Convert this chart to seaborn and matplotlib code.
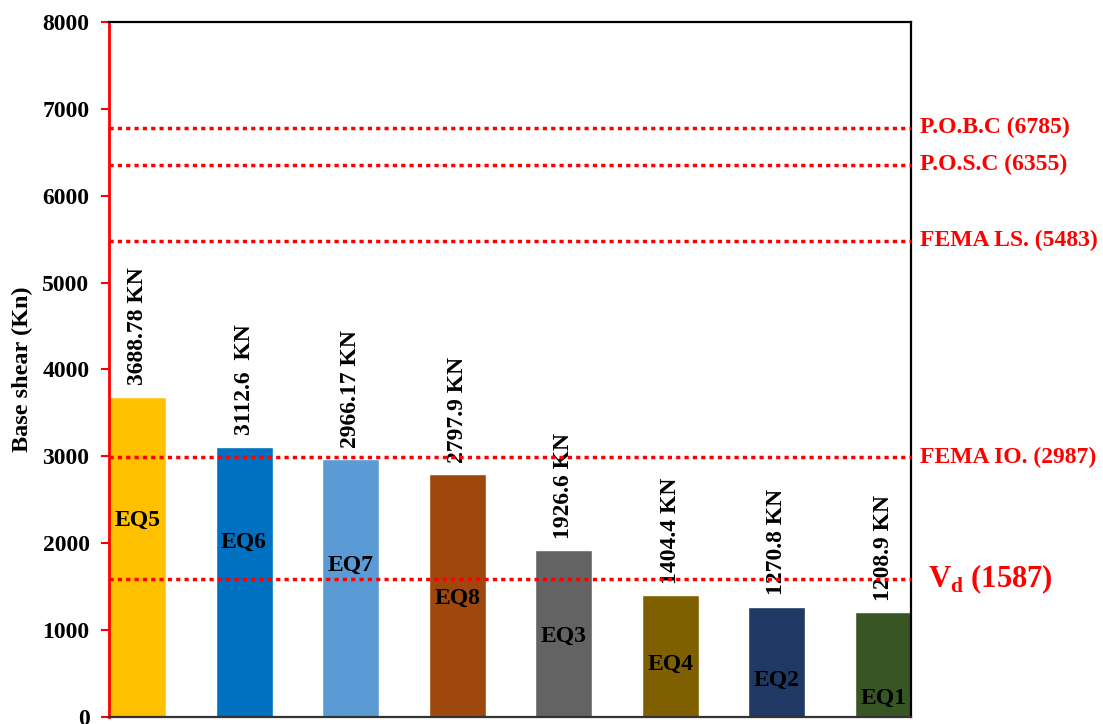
import matplotlib
matplotlib.use("Agg")
import matplotlib.pyplot as plt
import seaborn as sns
import pandas as pd

# Earthquake records and base shear (kN)
records = ["EQ5", "EQ6", "EQ7", "EQ8", "EQ3", "EQ4", "EQ2", "EQ1"]
base_shear = [3688.78, 3112.6, 2966.17, 2797.9, 1926.6, 1404.4, 1270.8, 1208.9]
value_labels = ["3688.78 KN", "3112.6  KN", "2966.17 KN", "2797.9 KN",
                "1926.6 KN", "1404.4 KN", "1270.8 KN", "1208.9 KN"]
bar_colors = ["#FFC000", "#0070C0", "#5B9BD5", "#9E480E",
              "#636363", "#7F6000", "#203864", "#375623"]
# Height at which each record name is written inside its bar
name_label_y = [2268, 2014, 1750, 1370, 932, 610, 426, 219]

# Capacity / code limits
limit_names = ["P.O.B.C (6785)", "P.O.S.C (6355)", "FEMA LS. (5483)", "FEMA IO. (2987)"]
limit_values = [6785, 6355, 5483, 2987]
design_shear = 1587

sns.set_theme(style="white")
plt.rcParams["font.family"] = ["Liberation Serif", "DejaVu Serif"]
plt.rcParams["font.weight"] = "bold"
plt.rcParams["text.color"] = "black"
plt.rcParams["axes.labelcolor"] = "black"
plt.rcParams["ytick.labelcolor"] = "black"
plt.rcParams["mathtext.fontset"] = "custom"
plt.rcParams["mathtext.rm"] = "Liberation Serif:bold"
plt.rcParams["mathtext.bf"] = "Liberation Serif:bold"

df = pd.DataFrame({"record": records, "shear": base_shear})

fig = plt.figure(figsize=(11.03, 7.24), dpi=100)
ax = fig.add_axes([0.0988, 0.0097, 0.7271, 0.9599])

sns.barplot(data=df, x="record", y="shear", hue="record", order=records,
            palette=dict(zip(records, bar_colors)), width=0.535,
            saturation=1, legend=False, ax=ax)

ax.set_xlim(-0.2675, 7.26)
ax.set_ylim(0, 8000)
ax.set_yticks(range(0, 8001, 1000))
ax.set_xticks([])
ax.set_xlabel("")
ax.set_ylabel("Base shear (Kn)", fontsize=17.5, fontweight="bold",
              color="black", labelpad=7)
ax.tick_params(axis="y", which="major", direction="out", length=6, width=1.5,
               color="red", labelcolor="black", labelsize=17, pad=8, left=True)
for lab in ax.get_yticklabels():
    lab.set_fontweight("bold")

for side in ["top", "right"]:
    ax.spines[side].set_color("black")
    ax.spines[side].set_linewidth(1.6)
ax.spines["bottom"].set_color("#333333")
ax.spines["bottom"].set_linewidth(1.6)
ax.spines["left"].set_color("red")
ax.spines["left"].set_linewidth(2.0)

# Value labels above bars and record names inside bars
for i, (v, txt, ny, name) in enumerate(zip(base_shear, value_labels, name_label_y, records)):
    ax.annotate(txt, xy=(i, v), xytext=(0, 8), textcoords="offset points",
                rotation=90, ha="center", va="bottom", fontsize=17,
                fontweight="bold", color="black")
    ax.text(i, ny, name, ha="center", va="center", fontsize=17,
            fontweight="bold", color="black")

# Dotted limit lines with labels on the right
dot_style = dict(color="red", linewidth=2.5, linestyle=(0, (1.2, 1.2)),
                 dash_capstyle="butt", zorder=3)
for name, val in zip(limit_names, limit_values):
    ax.axhline(val, **dot_style)
    ax.annotate(name, xy=(1.011, val), xycoords=("axes fraction", "data"),
                ha="left", va="center", fontsize=17, fontweight="bold",
                color="red", annotation_clip=False)

ax.axhline(design_shear, **dot_style)
ax.annotate(r"$\mathbf{V}_{\mathbf{d}}$ (1587)", xy=(1.021, design_shear),
            xycoords=("axes fraction", "data"), ha="left", va="center",
            fontsize=22, fontweight="bold", color="red", annotation_clip=False)

fig.savefig("out.png", dpi=100)
